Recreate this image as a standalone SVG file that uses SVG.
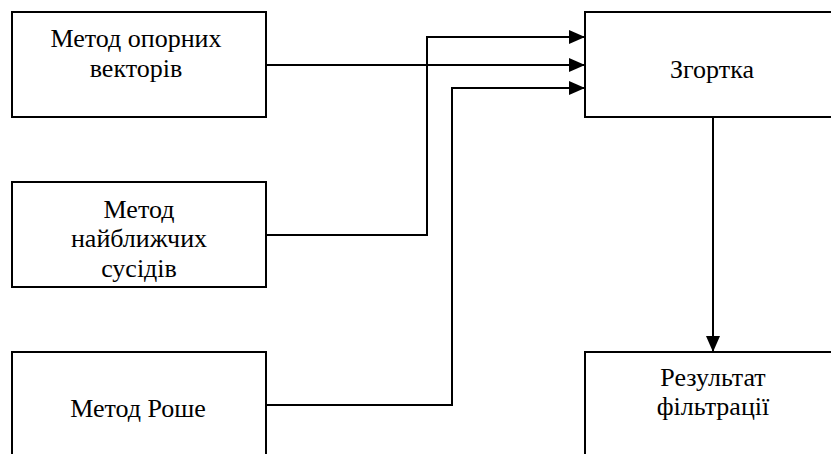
<svg xmlns="http://www.w3.org/2000/svg" width="831" height="454" viewBox="0 0 831 454">
<style>
.box{fill:#fff;stroke:#000;stroke-width:2}
.t{font-family:'Liberation Serif','Times New Roman',serif;font-size:26px;fill:#000;text-anchor:middle}
.c{fill:none;stroke:#000;stroke-width:2}
</style>
<defs>
<marker id="arr" markerUnits="userSpaceOnUse" markerWidth="16" markerHeight="14" refX="16" refY="7" orient="auto">
<path d="M0,0 L16,7 L0,14 Z" fill="#000"/>
</marker>
</defs>
<rect width="831" height="454" fill="#fff"/>
<g id="node-svm">
<rect class="box" x="12" y="12" width="254" height="105"/>
<text class="t" x="136" y="47">Метод опорних</text>
<text class="t" x="136" y="77">векторів</text>
</g>
<g id="node-knn">
<rect class="box" x="12" y="182" width="254" height="105"/>
<text class="t" x="139" y="218">Метод</text>
<text class="t" x="139" y="247">найближчих</text>
<text class="t" x="139" y="277">сусідів</text>
</g>
<g id="node-roche">
<rect class="box" x="12" y="352" width="254" height="120"/>
<text class="t" x="138" y="417">Метод Роше</text>
</g>
<g id="node-conv">
<rect class="box" x="585" y="12" width="260" height="105"/>
<text class="t" x="712" y="78">Згортка</text>
</g>
<g id="node-result">
<rect class="box" x="585" y="352" width="260" height="120"/>
<text class="t" x="713" y="386">Результат</text>
<text class="t" x="713" y="415">фільтрації</text>
</g>
<g id="connectors">
<path class="c" d="M266,65 H585" marker-end="url(#arr)"/>
<path class="c" d="M266,235 H427 V37 H585" marker-end="url(#arr)"/>
<path class="c" d="M266,405 H452 V88 H585" marker-end="url(#arr)"/>
<path class="c" d="M713,117 V352" marker-end="url(#arr)"/>
</g>
</svg>
